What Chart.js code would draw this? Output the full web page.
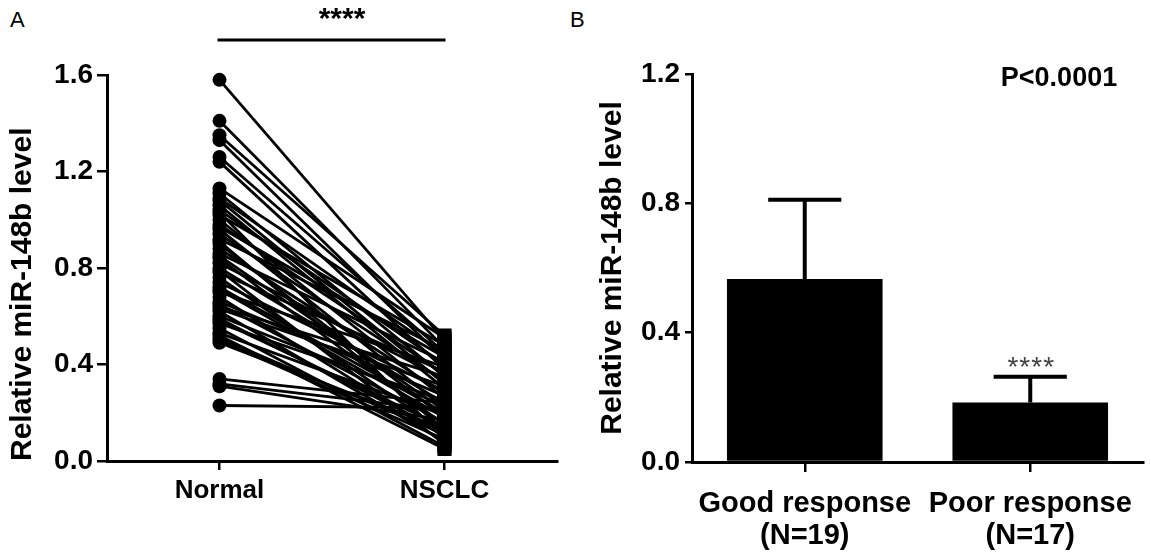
<!DOCTYPE html>
<html>
<head>
<meta charset="utf-8">
<script src="https://cdn.jsdelivr.net/npm/chart.js@4.4.1/dist/chart.umd.min.js"></script>
<style>
  html, body { margin: 0; padding: 0; background: #fff; }
  body { width: 1151px; height: 559px; position: relative; overflow: hidden; font-family: 'Liberation Sans', Arial, sans-serif; }
  #chartA { position: absolute; left: 0; top: 0; }
  #chartB { position: absolute; left: 560px; top: 0; }
  .panel-tag { position: absolute; font-size: 22px; line-height: 1; color: #000; }
</style>
</head>
<body>
<div class="panel-tag" style="left:10px;top:9px">A</div>
<div class="panel-tag" style="left:570px;top:9px">B</div>
<canvas id="chartA" width="575" height="559"></canvas>
<canvas id="chartB" width="591" height="559"></canvas>
<script>
// panel A: paired samples
const groups = ['Normal', 'NSCLC'];
const normalLevel = [1.58, 1.41, 1.35, 1.33, 1.26, 1.24, 1.13, 1.11, 1.09, 1.08, 1.06, 1.04, 1.03, 1.02, 1.00,
  0.98, 0.97, 0.96, 0.94, 0.92, 0.91, 0.90, 0.88, 0.86, 0.85, 0.84, 0.82, 0.80, 0.79, 0.78, 0.76, 0.74,
  0.72, 0.71, 0.70, 0.68, 0.66, 0.65, 0.64, 0.63, 0.62, 0.60, 0.59, 0.58, 0.57, 0.55, 0.53, 0.52, 0.51,
  0.50, 0.49, 0.34, 0.32, 0.31, 0.23];
const nsclcLevel = [0.50, 0.47, 0.52, 0.42, 0.45, 0.38, 0.51, 0.35, 0.44, 0.32, 0.30, 0.40, 0.09, 0.48, 0.26,
  0.36, 0.43, 0.22, 0.33, 0.46, 0.13, 0.18, 0.28, 0.41, 0.21, 0.15, 0.34, 0.24, 0.07, 0.37, 0.12, 0.29,
  0.20, 0.18, 0.39, 0.10, 0.27, 0.16, 0.35, 0.31, 0.08, 0.23, 0.12, 0.14, 0.25, 0.06, 0.19, 0.05, 0.11,
  0.09, 0.13, 0.24, 0.21, 0.17, 0.22];
const ticksA = [0, 0.4, 0.8, 1.2, 1.6];

// panel B: response groups
const responseGroups = [['Good response', '(N=19)'], ['Poor response', '(N=17)']];
const responseMean = [0.566, 0.184];
const responseSem = [0.245, 0.080];
const ticksB = [0, 0.4, 0.8, 1.2];

const FONT = "'Liberation Sans', Arial, sans-serif";
Chart.defaults.font.family = FONT;
Chart.defaults.color = '#000';

const axisLabel = 'Relative miR-148b level';

const pairStars = {
  id: 'pairStars',
  afterDraw(chart) {
    const { ctx, chartArea, scales: { x } } = chart;
    const x1 = x.getPixelForValue(0);
    const x2 = x.getPixelForValue(1);
    const lineY = chartArea.top - 35;
    ctx.save();
    ctx.strokeStyle = '#000';
    ctx.lineWidth = 3;
    ctx.beginPath();
    ctx.moveTo(x1 - 2, lineY);
    ctx.lineTo(x2 + 1, lineY);
    ctx.stroke();
    ctx.fillStyle = '#000';
    ctx.font = 'bold 30px ' + FONT;
    ctx.textAlign = 'center';
    ctx.textBaseline = 'alphabetic';
    ctx.fillText('****', (x1 + x2) / 2 + 10, lineY - 12);
    ctx.restore();
  }
};

const errorBars = {
  id: 'errorBars',
  afterDatasetsDraw(chart) {
    const { ctx, chartArea, scales: { y } } = chart;
    const meta = chart.getDatasetMeta(0);
    ctx.save();
    ctx.strokeStyle = '#000';
    ctx.lineWidth = 4;
    meta.data.forEach((bar, i) => {
      const top = y.getPixelForValue(responseMean[i] + responseSem[i]);
      const half = bar.width * 0.235;
      ctx.beginPath();
      ctx.moveTo(bar.x, bar.y);
      ctx.lineTo(bar.x, top);
      ctx.moveTo(bar.x - half, top);
      ctx.lineTo(bar.x + half, top);
      ctx.stroke();
    });
    // significance marks
    const bar2 = meta.data[1];
    const top2 = y.getPixelForValue(responseMean[1] + responseSem[1]);
    ctx.fillStyle = '#444';
    ctx.font = '28px ' + FONT;
    ctx.letterSpacing = '1px';
    ctx.textAlign = 'center';
    ctx.textBaseline = 'alphabetic';
    ctx.fillText('****', bar2.x + 1, top2 - 1);
    ctx.letterSpacing = '0px';
    ctx.fillStyle = '#000';
    ctx.font = 'bold 27px ' + FONT;
    ctx.textBaseline = 'middle';
    ctx.fillText('P<0.0001', chartArea.right - 84, chartArea.top + 5);
    ctx.restore();
  }
};

new Chart(document.getElementById('chartA'), {
  type: 'line',
  data: {
    labels: groups,
    datasets: normalLevel.map((n, i) => ({
      data: [n, nsclcLevel[i]],
      borderColor: '#000',
      backgroundColor: '#000',
      borderWidth: 2.8,
      pointStyle: ['circle', 'rect'],
      pointRadius: [7, 10],
      pointBorderWidth: 0,
      clip: false
    }))
  },
  options: {
    responsive: false,
    animation: false,
    layout: { padding: { left: 0, top: 75, right: 18, bottom: 0 } },
    plugins: { legend: { display: false }, tooltip: { enabled: false } },
    scales: {
      x: {
        type: 'category',
        offset: true,
        afterFit: s => { s.height = 98; },
        grid: { display: true, drawOnChartArea: false, drawTicks: true, tickLength: 9, color: '#000', lineWidth: 2.5 },
        border: { display: true, color: '#000', width: 3 },
        ticks: { font: { size: 26, weight: 'bold' }, padding: 5, color: '#000' }
      },
      y: {
        min: 0,
        max: 1.6,
        afterBuildTicks: s => { s.ticks = ticksA.map(v => ({ value: v })); },
        afterFit: s => { s.width = 107; },
        grid: { display: true, drawOnChartArea: false, drawTicks: true, tickLength: 10, color: '#000', lineWidth: 2.5 },
        border: { display: true, color: '#000', width: 3 },
        ticks: { font: { size: 28, weight: 'bold' }, padding: 4, color: '#000', callback: v => v.toFixed(1) },
        title: { display: true, text: axisLabel, align: 'start', font: { size: 30, weight: 'bold' }, padding: { top: 5, bottom: 0 }, color: '#000' }
      }
    }
  },
  plugins: [pairStars]
});

new Chart(document.getElementById('chartB'), {
  type: 'bar',
  data: {
    labels: responseGroups,
    datasets: [{
      data: responseMean,
      backgroundColor: '#000',
      borderWidth: 0,
      categoryPercentage: 1,
      barPercentage: 0.69
    }]
  },
  options: {
    responsive: false,
    animation: false,
    layout: { padding: { left: 0, top: 74, right: 8, bottom: 0 } },
    plugins: { legend: { display: false }, tooltip: { enabled: false } },
    scales: {
      x: {
        offset: true,
        afterFit: s => { s.height = 97; },
        grid: { display: true, offset: false, drawOnChartArea: false, drawTicks: true, tickLength: 10, color: '#000', lineWidth: 2.5 },
        border: { display: true, color: '#000', width: 3 },
        ticks: { font: { size: 29, weight: 'bold', lineHeight: 1.1 }, padding: 16, color: '#000' }
      },
      y: {
        min: 0,
        max: 1.2,
        afterBuildTicks: s => { s.ticks = ticksB.map(v => ({ value: v })); },
        afterFit: s => { s.width = 132; },
        grid: { display: true, drawOnChartArea: false, drawTicks: true, tickLength: 7, color: '#000', lineWidth: 2.5 },
        border: { display: true, color: '#000', width: 3 },
        ticks: { font: { size: 28, weight: 'bold' }, padding: 5, color: '#000', callback: v => v.toFixed(1) },
        title: { display: true, text: axisLabel, font: { size: 30, weight: 'bold' }, padding: { top: 35, bottom: 0 }, color: '#000' }
      }
    }
  },
  plugins: [errorBars]
});
</script>
</body>
</html>
